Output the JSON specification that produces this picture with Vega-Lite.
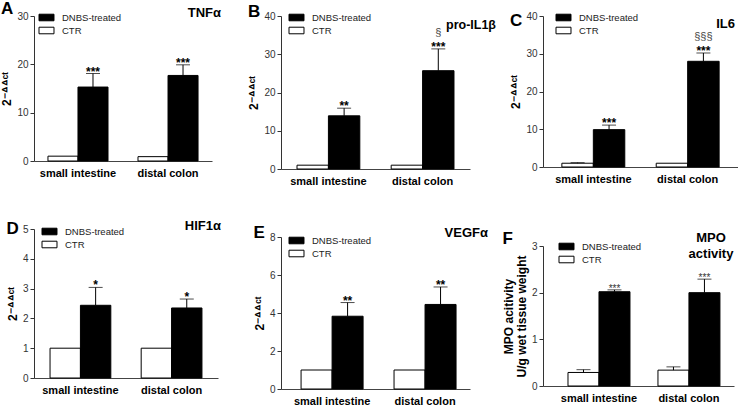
{
  "$schema": "https://vega.github.io/schema/vega-lite/v6.json",
  "padding": {"left": 0, "top": 0, "right": 0, "bottom": 0},
  "background": "white",
  "datasets": {
    "d": [
      {"panel": "A", "site": "small intestine", "group": "CTR", "value": 1.0},
      {"panel": "A", "site": "small intestine", "group": "DNBS-treated", "value": 15.3, "upper": 18.1, "star": "***"},
      {"panel": "A", "site": "distal colon", "group": "CTR", "value": 0.9},
      {"panel": "A", "site": "distal colon", "group": "DNBS-treated", "value": 17.7, "upper": 19.9, "star": "***"},
      {"panel": "B", "site": "small intestine", "group": "CTR", "value": 1.0},
      {"panel": "B", "site": "small intestine", "group": "DNBS-treated", "value": 13.9, "upper": 15.9, "star": "**"},
      {"panel": "B", "site": "distal colon", "group": "CTR", "value": 1.0},
      {"panel": "B", "site": "distal colon", "group": "DNBS-treated", "value": 25.7, "upper": 31.4, "star": "***", "sect": "§"},
      {"panel": "C", "site": "small intestine", "group": "CTR", "value": 1.0, "upper": 1.15},
      {"panel": "C", "site": "small intestine", "group": "DNBS-treated", "value": 9.9, "upper": 11.1, "star": "***"},
      {"panel": "C", "site": "distal colon", "group": "CTR", "value": 1.0},
      {"panel": "C", "site": "distal colon", "group": "DNBS-treated", "value": 28.0, "upper": 30.2, "star": "***", "sect": "§§§"},
      {"panel": "D", "site": "small intestine", "group": "CTR", "value": 1.0},
      {"panel": "D", "site": "small intestine", "group": "DNBS-treated", "value": 2.44, "upper": 3.04, "star": "*"},
      {"panel": "D", "site": "distal colon", "group": "CTR", "value": 1.0},
      {"panel": "D", "site": "distal colon", "group": "DNBS-treated", "value": 2.35, "upper": 2.65, "star": "*"},
      {"panel": "E", "site": "small intestine", "group": "CTR", "value": 1.0},
      {"panel": "E", "site": "small intestine", "group": "DNBS-treated", "value": 3.83, "upper": 4.55, "star": "**"},
      {"panel": "E", "site": "distal colon", "group": "CTR", "value": 1.0},
      {"panel": "E", "site": "distal colon", "group": "DNBS-treated", "value": 4.45, "upper": 5.37, "star": "**"},
      {"panel": "F", "site": "small intestine", "group": "CTR", "value": 0.29, "upper": 0.35},
      {"panel": "F", "site": "small intestine", "group": "DNBS-treated", "value": 2.02, "upper": 2.06, "star": "***"},
      {"panel": "F", "site": "distal colon", "group": "CTR", "value": 0.34, "upper": 0.41},
      {"panel": "F", "site": "distal colon", "group": "DNBS-treated", "value": 2.0, "upper": 2.29, "star": "***"}
    ]
  },
  "resolve": {"scale": {"fill": "independent", "xOffset": "independent"}, "legend": {"fill": "independent"}},
  "spacing": 26,
  "hconcat": [
    {
      "resolve": {"scale": {"fill": "independent", "xOffset": "independent"}, "legend": {"fill": "independent"}},
      "spacing": 42,
      "vconcat": [
        {
          "title": {"text": "TNFα", "anchor": "end", "offset": -20, "fontSize": 13, "dx": 9},
          "resolve": {"scale": {"fill": "independent", "xOffset": "independent"}, "legend": {"fill": "independent"}},
          "vconcat": [
            {
              "width": 178, "height": 145,
              "title": {"text": "A", "anchor": "start", "frame": "bounds", "fontSize": 17, "offset": -8},
              "data": {"name": "d"},
              "transform": [{"filter": "datum.panel === 'A'"}],
              "encoding": {
                "x": {"field": "site", "type": "nominal", "sort": ["small intestine", "distal colon"], "scale": {"paddingInner": 0.333, "paddingOuter": 0.155}, "title": null},
                "xOffset": {"field": "group", "type": "nominal", "sort": ["CTR", "DNBS-treated"], "scale": {"paddingInner": 0, "paddingOuter": 0}}
              },
              "layer": [
                {"mark": {"type": "bar", "stroke": "black", "strokeWidth": 1},
                 "encoding": {
                   "y": {"field": "value", "type": "quantitative", "scale": {"domain": [0, 30]}, "axis": {"values": [0, 10, 20, 30]}, "title": "2⁻ᐞᐞᶜᵗ"},
                   "fill": {"field": "group", "type": "nominal", "scale": {"domain": ["DNBS-treated", "CTR"], "range": ["black", "white"]}, "legend": {"legendX": 5, "legendY": -6}}}},
                {"transform": [{"filter": "isValid(datum.upper)"}], "mark": {"type": "rule", "color": "black"},
                 "encoding": {"y": {"field": "value", "type": "quantitative", "scale": {"domain": [0, 30]}, "axis": {"values": [0, 10, 20, 30]}, "title": "2⁻ᐞᐞᶜᵗ"}, "y2": {"field": "upper"}}},
                {"transform": [{"filter": "isValid(datum.upper)"}], "mark": {"type": "tick", "color": "black", "thickness": 1, "size": 14},
                 "encoding": {"y": {"field": "upper", "type": "quantitative", "scale": {"domain": [0, 30]}, "axis": {"values": [0, 10, 20, 30]}, "title": "2⁻ᐞᐞᶜᵗ"}}},
                {"transform": [{"filter": "datum.star"}], "mark": {"type": "text", "fontWeight": "bold", "fontSize": 12, "baseline": "alphabetic", "dy": 2},
                 "encoding": {"y": {"field": "upper", "type": "quantitative", "scale": {"domain": [0, 30]}, "axis": {"values": [0, 10, 20, 30]}, "title": "2⁻ᐞᐞᶜᵗ"}, "text": {"field": "star"}}}
              ]
            }
          ]
        },
        {
          "title": {"text": "HIF1α", "anchor": "end", "offset": -13, "fontSize": 13, "dx": 3},
          "resolve": {"scale": {"fill": "independent", "xOffset": "independent"}, "legend": {"fill": "independent"}},
          "vconcat": [
            {
              "width": 184, "height": 149,
              "title": {"text": "D", "anchor": "start", "frame": "bounds", "fontSize": 17, "offset": -14},
              "data": {"name": "d"},
              "transform": [{"filter": "datum.panel === 'D'"}],
              "encoding": {
                "x": {"field": "site", "type": "nominal", "sort": ["small intestine", "distal colon"], "scale": {"paddingInner": 0.333, "paddingOuter": 0.176}, "title": null},
                "xOffset": {"field": "group", "type": "nominal", "sort": ["CTR", "DNBS-treated"], "scale": {"paddingInner": 0, "paddingOuter": 0}}
              },
              "layer": [
                {"mark": {"type": "bar", "stroke": "black", "strokeWidth": 1},
                 "encoding": {
                   "y": {"field": "value", "type": "quantitative", "scale": {"domain": [0, 5]}, "axis": {"values": [0, 1, 2, 3, 4, 5]}, "title": "2⁻ᐞᐞᶜᵗ"},
                   "fill": {"field": "group", "type": "nominal", "scale": {"domain": ["DNBS-treated", "CTR"], "range": ["black", "white"]}, "legend": {"legendX": 8, "legendY": -5}}}},
                {"transform": [{"filter": "isValid(datum.upper)"}], "mark": {"type": "rule", "color": "black"},
                 "encoding": {"y": {"field": "value", "type": "quantitative", "scale": {"domain": [0, 5]}, "axis": {"values": [0, 1, 2, 3, 4, 5]}, "title": "2⁻ᐞᐞᶜᵗ"}, "y2": {"field": "upper"}}},
                {"transform": [{"filter": "isValid(datum.upper)"}], "mark": {"type": "tick", "color": "black", "thickness": 1, "size": 14},
                 "encoding": {"y": {"field": "upper", "type": "quantitative", "scale": {"domain": [0, 5]}, "axis": {"values": [0, 1, 2, 3, 4, 5]}, "title": "2⁻ᐞᐞᶜᵗ"}}},
                {"transform": [{"filter": "datum.star"}], "mark": {"type": "text", "fontWeight": "bold", "fontSize": 12, "baseline": "alphabetic", "dy": 2},
                 "encoding": {"y": {"field": "upper", "type": "quantitative", "scale": {"domain": [0, 5]}, "axis": {"values": [0, 1, 2, 3, 4, 5]}, "title": "2⁻ᐞᐞᶜᵗ"}, "text": {"field": "star"}}}
              ]
            }
          ]
        }
      ]
    },
    {
      "resolve": {"scale": {"fill": "independent", "xOffset": "independent"}, "legend": {"fill": "independent"}},
      "spacing": 6,
      "hconcat": [
        {
          "resolve": {"scale": {"fill": "independent", "xOffset": "independent"}, "legend": {"fill": "independent"}},
          "spacing": 38,
          "vconcat": [
            {
              "title": {"text": "pro-IL1β", "anchor": "end", "offset": -28, "fontSize": 12.5, "dx": 26},
              "resolve": {"scale": {"fill": "independent", "xOffset": "independent"}, "legend": {"fill": "independent"}},
              "vconcat": [
                {
                  "width": 189, "height": 153,
                  "title": {"text": "B", "anchor": "start", "frame": "bounds", "fontSize": 17, "offset": -11},
                  "data": {"name": "d"},
                  "transform": [{"filter": "datum.panel === 'B'"}],
                  "encoding": {
                    "x": {"field": "site", "type": "nominal", "sort": ["small intestine", "distal colon"], "scale": {"paddingInner": 0.333, "paddingOuter": 0.17}, "title": null},
                    "xOffset": {"field": "group", "type": "nominal", "sort": ["CTR", "DNBS-treated"], "scale": {"paddingInner": 0, "paddingOuter": 0}}
                  },
                  "layer": [
                    {"mark": {"type": "bar", "stroke": "black", "strokeWidth": 1},
                     "encoding": {
                       "y": {"field": "value", "type": "quantitative", "scale": {"domain": [0, 40]}, "axis": {"values": [0, 10, 20, 30, 40]}, "title": "2⁻ᐞᐞᶜᵗ"},
                       "fill": {"field": "group", "type": "nominal", "scale": {"domain": ["DNBS-treated", "CTR"], "range": ["black", "white"]}, "legend": {"legendX": 8, "legendY": -6}}}},
                    {"transform": [{"filter": "isValid(datum.upper)"}], "mark": {"type": "rule", "color": "black"},
                     "encoding": {"y": {"field": "value", "type": "quantitative", "scale": {"domain": [0, 40]}, "axis": {"values": [0, 10, 20, 30, 40]}, "title": "2⁻ᐞᐞᶜᵗ"}, "y2": {"field": "upper"}}},
                    {"transform": [{"filter": "isValid(datum.upper)"}], "mark": {"type": "tick", "color": "black", "thickness": 1, "size": 14},
                     "encoding": {"y": {"field": "upper", "type": "quantitative", "scale": {"domain": [0, 40]}, "axis": {"values": [0, 10, 20, 30, 40]}, "title": "2⁻ᐞᐞᶜᵗ"}}},
                    {"transform": [{"filter": "datum.star"}], "mark": {"type": "text", "fontWeight": "bold", "fontSize": 12, "baseline": "alphabetic", "dy": 2},
                     "encoding": {"y": {"field": "upper", "type": "quantitative", "scale": {"domain": [0, 40]}, "axis": {"values": [0, 10, 20, 30, 40]}, "title": "2⁻ᐞᐞᶜᵗ"}, "text": {"field": "star"}}},
                    {"transform": [{"filter": "datum.sect"}], "mark": {"type": "text", "fontSize": 11, "baseline": "alphabetic", "dy": -13, "color": "#444"},
                     "encoding": {"y": {"field": "upper", "type": "quantitative", "scale": {"domain": [0, 40]}, "axis": {"values": [0, 10, 20, 30, 40]}, "title": "2⁻ᐞᐞᶜᵗ"}, "text": {"field": "sect"}}}
                  ]
                }
              ]
            },
            {
              "title": {"text": "VEGFα", "anchor": "end", "offset": -16, "fontSize": 13, "dx": 18},
              "resolve": {"scale": {"fill": "independent", "xOffset": "independent"}, "legend": {"fill": "independent"}},
              "vconcat": [
                {
                  "width": 189, "height": 152,
                  "title": {"text": "E", "anchor": "start", "frame": "bounds", "fontSize": 17, "offset": -10},
                  "data": {"name": "d"},
                  "transform": [{"filter": "datum.panel === 'E'"}],
                  "encoding": {
                    "x": {"field": "site", "type": "nominal", "sort": ["small intestine", "distal colon"], "scale": {"paddingInner": 0.333, "paddingOuter": 0.183, "align": 0.59}, "title": null},
                    "xOffset": {"field": "group", "type": "nominal", "sort": ["CTR", "DNBS-treated"], "scale": {"paddingInner": 0, "paddingOuter": 0}}
                  },
                  "layer": [
                    {"mark": {"type": "bar", "stroke": "black", "strokeWidth": 1},
                     "encoding": {
                       "y": {"field": "value", "type": "quantitative", "scale": {"domain": [0, 8]}, "axis": {"values": [0, 2, 4, 6, 8]}, "title": "2⁻ᐞᐞᶜᵗ"},
                       "fill": {"field": "group", "type": "nominal", "scale": {"domain": ["DNBS-treated", "CTR"], "range": ["black", "white"]}, "legend": {"legendX": 8, "legendY": -4}}}},
                    {"transform": [{"filter": "isValid(datum.upper)"}], "mark": {"type": "rule", "color": "black"},
                     "encoding": {"y": {"field": "value", "type": "quantitative", "scale": {"domain": [0, 8]}, "axis": {"values": [0, 2, 4, 6, 8]}, "title": "2⁻ᐞᐞᶜᵗ"}, "y2": {"field": "upper"}}},
                    {"transform": [{"filter": "isValid(datum.upper)"}], "mark": {"type": "tick", "color": "black", "thickness": 1, "size": 14},
                     "encoding": {"y": {"field": "upper", "type": "quantitative", "scale": {"domain": [0, 8]}, "axis": {"values": [0, 2, 4, 6, 8]}, "title": "2⁻ᐞᐞᶜᵗ"}}},
                    {"transform": [{"filter": "datum.star"}], "mark": {"type": "text", "fontWeight": "bold", "fontSize": 12, "baseline": "alphabetic", "dy": 2},
                     "encoding": {"y": {"field": "upper", "type": "quantitative", "scale": {"domain": [0, 8]}, "axis": {"values": [0, 2, 4, 6, 8]}, "title": "2⁻ᐞᐞᶜᵗ"}, "text": {"field": "star"}}}
                  ]
                }
              ]
            }
          ]
        },
        {
          "resolve": {"scale": {"fill": "independent", "xOffset": "independent"}, "legend": {"fill": "independent"}},
          "spacing": 46,
          "vconcat": [
            {
              "title": {"text": "IL6", "anchor": "end", "offset": -21, "fontSize": 13, "dx": -3},
              "resolve": {"scale": {"fill": "independent", "xOffset": "independent"}, "legend": {"fill": "independent"}},
              "vconcat": [
                {
                  "width": 195, "height": 151,
                  "title": {"text": "C", "anchor": "start", "frame": "bounds", "fontSize": 17, "offset": -20},
                  "data": {"name": "d"},
                  "transform": [{"filter": "datum.panel === 'C'"}],
                  "encoding": {
                    "x": {"field": "site", "type": "nominal", "sort": ["small intestine", "distal colon"], "scale": {"paddingInner": 0.333, "paddingOuter": 0.2}, "title": null},
                    "xOffset": {"field": "group", "type": "nominal", "sort": ["CTR", "DNBS-treated"], "scale": {"paddingInner": 0, "paddingOuter": 0}}
                  },
                  "layer": [
                    {"mark": {"type": "bar", "stroke": "black", "strokeWidth": 1},
                     "encoding": {
                       "y": {"field": "value", "type": "quantitative", "scale": {"domain": [0, 40]}, "axis": {"values": [0, 10, 20, 30, 40]}, "title": "2⁻ᐞᐞᶜᵗ"},
                       "fill": {"field": "group", "type": "nominal", "scale": {"domain": ["DNBS-treated", "CTR"], "range": ["black", "white"]}, "legend": {"legendX": 13, "legendY": -6}}}},
                    {"transform": [{"filter": "isValid(datum.upper)"}], "mark": {"type": "rule", "color": "black"},
                     "encoding": {"y": {"field": "value", "type": "quantitative", "scale": {"domain": [0, 40]}, "axis": {"values": [0, 10, 20, 30, 40]}, "title": "2⁻ᐞᐞᶜᵗ"}, "y2": {"field": "upper"}}},
                    {"transform": [{"filter": "isValid(datum.upper)"}], "mark": {"type": "tick", "color": "black", "thickness": 1, "size": 14},
                     "encoding": {"y": {"field": "upper", "type": "quantitative", "scale": {"domain": [0, 40]}, "axis": {"values": [0, 10, 20, 30, 40]}, "title": "2⁻ᐞᐞᶜᵗ"}}},
                    {"transform": [{"filter": "datum.star"}], "mark": {"type": "text", "fontWeight": "bold", "fontSize": 12, "baseline": "alphabetic", "dy": 2},
                     "encoding": {"y": {"field": "upper", "type": "quantitative", "scale": {"domain": [0, 40]}, "axis": {"values": [0, 10, 20, 30, 40]}, "title": "2⁻ᐞᐞᶜᵗ"}, "text": {"field": "star"}}},
                    {"transform": [{"filter": "datum.sect"}], "mark": {"type": "text", "fontSize": 11, "baseline": "alphabetic", "dy": -13, "color": "#444"},
                     "encoding": {"y": {"field": "upper", "type": "quantitative", "scale": {"domain": [0, 40]}, "axis": {"values": [0, 10, 20, 30, 40]}, "title": "2⁻ᐞᐞᶜᵗ"}, "text": {"field": "sect"}}}
                  ]
                }
              ]
            },
            {
              "title": {"text": ["MPO", "activity"], "anchor": "end", "align": "center", "offset": -31, "fontSize": 13, "lineHeight": 16, "dx": -23},
              "resolve": {"scale": {"fill": "independent", "xOffset": "independent"}, "legend": {"fill": "independent"}},
              "vconcat": [
                {
                  "width": 191, "height": 140,
                  "title": {"text": "F", "anchor": "start", "frame": "bounds", "fontSize": 17, "offset": -9},
                  "data": {"name": "d"},
                  "transform": [{"filter": "datum.panel === 'F'"}],
                  "encoding": {
                    "x": {"field": "site", "type": "nominal", "sort": ["small intestine", "distal colon"], "scale": {"paddingInner": 0.311, "paddingOuter": 0.217, "align": 0.64}, "title": null},
                    "xOffset": {"field": "group", "type": "nominal", "sort": ["CTR", "DNBS-treated"], "scale": {"paddingInner": 0, "paddingOuter": 0}}
                  },
                  "layer": [
                    {"mark": {"type": "bar", "stroke": "black", "strokeWidth": 1},
                     "encoding": {
                       "y": {"field": "value", "type": "quantitative", "scale": {"domain": [0, 3]}, "axis": {"values": [0, 1, 2, 3]}, "title": ["MPO acitivity", "U/g wet tissue weight"]},
                       "fill": {"field": "group", "type": "nominal", "scale": {"domain": ["DNBS-treated", "CTR"], "range": ["black", "white"]}, "legend": {"legendX": 16, "legendY": -7}}}},
                    {"transform": [{"filter": "isValid(datum.upper)"}], "mark": {"type": "rule", "color": "black"},
                     "encoding": {"y": {"field": "value", "type": "quantitative", "scale": {"domain": [0, 3]}, "axis": {"values": [0, 1, 2, 3]}, "title": ["MPO acitivity", "U/g wet tissue weight"]}, "y2": {"field": "upper"}}},
                    {"transform": [{"filter": "isValid(datum.upper)"}], "mark": {"type": "tick", "color": "black", "thickness": 1, "size": 14},
                     "encoding": {"y": {"field": "upper", "type": "quantitative", "scale": {"domain": [0, 3]}, "axis": {"values": [0, 1, 2, 3]}, "title": ["MPO acitivity", "U/g wet tissue weight"]}}},
                    {"transform": [{"filter": "datum.star"}], "mark": {"type": "text", "fontSize": 10, "baseline": "alphabetic", "dy": 2, "color": "#333"},
                     "encoding": {"y": {"field": "upper", "type": "quantitative", "scale": {"domain": [0, 3]}, "axis": {"values": [0, 1, 2, 3]}, "title": ["MPO acitivity", "U/g wet tissue weight"]}, "text": {"field": "star"}}}
                  ]
                }
              ]
            }
          ]
        }
      ]
    }
  ],
  "config": {
    "view": {"stroke": null},
    "font": "Liberation Sans",
    "title": {"font": "Liberation Sans", "fontWeight": "bold", "color": "black"},
    "axisY": {"grid": false, "tickSize": 4, "labelFont": "Liberation Sans", "labelFontSize": 10, "labelColor": "#333", "domainColor": "#333", "tickColor": "#333", "titleFont": "Liberation Sans", "titleFontSize": 12, "titleFontWeight": "bold", "titleColor": "black", "titlePadding": 3, "labelPadding": 2, "titleLineHeight": 13},
    "axisX": {"ticks": false, "labelAngle": 0, "labelFont": "Liberation Sans", "labelFontSize": 11, "labelFontWeight": "bold", "labelColor": "black", "labelPadding": 6, "domainColor": "#444"},
    "legend": {"orient": "none", "title": null, "padding": 0, "symbolType": "M-1.07,-0.47L1.07,-0.47L1.07,0.47L-1.07,0.47Z", "symbolSize": 196, "symbolStrokeColor": "black", "symbolStrokeWidth": 1, "labelFont": "Liberation Sans", "labelFontSize": 9.5, "labelColor": "#222", "rowPadding": 0, "labelOffset": 8},
    "text": {"font": "Liberation Sans"}
  }
}
